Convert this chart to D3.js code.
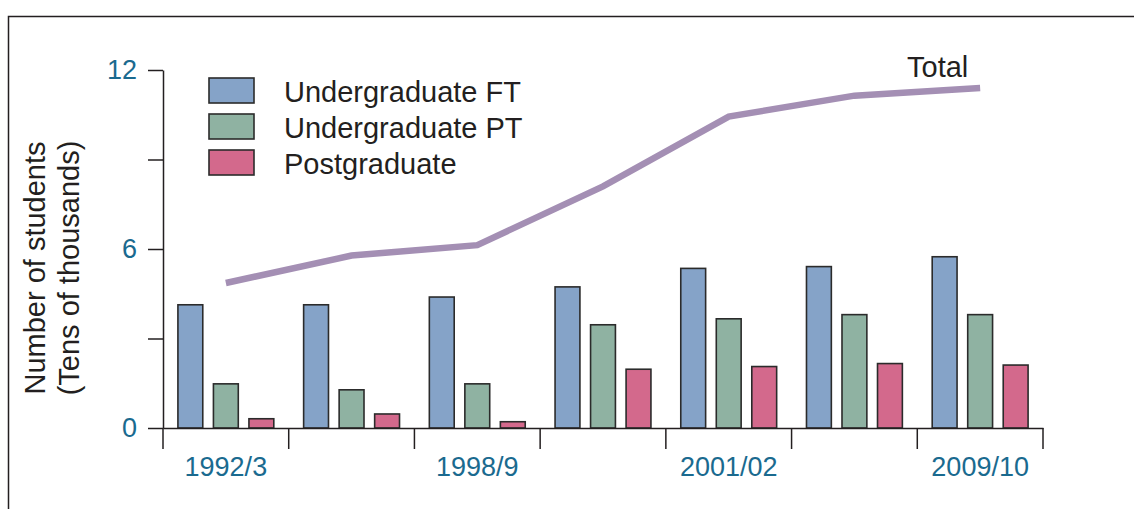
<!DOCTYPE html>
<html>
<head>
<meta charset="utf-8">
<script src="https://cdn.jsdelivr.net/npm/d3@7"></script>
<style>
  body { margin: 0; background: #fff; }
  svg { display: block; font-family: 'Liberation Sans', Arial, sans-serif; }
</style>
</head>
<body>
<div id="chart"></div>
<script>
// data (tens of thousands of students)
const periods = ['1992/3', '', '1998/9', '', '2001/02', '', '2009/10'];
const seriesNames = ['Undergraduate FT', 'Undergraduate PT', 'Postgraduate'];
const undergradFT = [4.13, 4.13, 4.39, 4.73, 5.35, 5.41, 5.74];
const undergradPT = [1.48, 1.28, 1.48, 3.46, 3.66, 3.80, 3.80];
const postgrad = [0.31, 0.47, 0.21, 1.97, 2.06, 2.16, 2.11];
const totals = [4.86, 5.78, 6.13, 8.10, 10.44, 11.14, 11.40];
const yTicks = [0, 3, 6, 9, 12];
const yLabelled = [0, 6, 12];

(function () {
  const width = 1134, height = 509;
  const colors = ['#85a3c8', '#8fb2a2', '#d3698c'];
  const lineColor = '#a48fb4';
  const tickColor = '#1a6a8f';
  const inkColor = '#231f20';
  const labelSize = '29px';
  const tickSize = '27px';

  const svg = d3.select('#chart').append('svg')
    .attr('width', width)
    .attr('height', height);

  // frame (left and top edges)
  svg.append('path')
    .attr('d', 'M8.5,' + height + 'V16.5H' + width)
    .attr('fill', 'none')
    .attr('stroke', inkColor)
    .attr('stroke-width', 1.5);

  const x = d3.scaleBand()
    .domain(d3.range(periods.length))
    .range([163, 1043]);

  const xInner = d3.scaleBand()
    .domain(d3.range(seriesNames.length))
    .range([0, x.bandwidth()])
    .paddingInner(0.3)
    .paddingOuter(0.42);

  const y = d3.scaleLinear()
    .domain([0, 12])
    .range([428, 70]);

  const table = periods.map(function (p, i) {
    return { i: i, values: [undergradFT[i], undergradPT[i], postgrad[i]] };
  });

  // bars
  const groups = svg.append('g').selectAll('g.period')
    .data(table)
    .enter()
    .append('g')
    .attr('class', 'period')
    .attr('transform', function (d) { return 'translate(' + x(d.i) + ',0)'; });

  groups.selectAll('rect')
    .data(function (d) { return d.values; })
    .enter()
    .append('rect')
    .attr('x', function (d, j) { return xInner(j); })
    .attr('y', function (d) { return y(d); })
    .attr('width', xInner.bandwidth())
    .attr('height', function (d) { return y(0) - y(d); })
    .attr('fill', function (d, j) { return colors[j]; })
    .attr('stroke', '#2b2b2b')
    .attr('stroke-width', 1.6);

  // y axis
  const yAxis = svg.append('g')
    .attr('transform', 'translate(163,0)')
    .call(d3.axisLeft(y)
      .tickValues(yTicks)
      .tickSize(15)
      .tickSizeOuter(0)
      .tickPadding(11)
      .tickFormat(function (d) { return yLabelled.indexOf(d) >= 0 ? d : ''; }));
  yAxis.select('.domain').attr('stroke', inkColor).attr('stroke-width', 1.5);
  yAxis.selectAll('.tick line').attr('stroke', inkColor).attr('stroke-width', 1.5);
  yAxis.selectAll('.tick text')
    .attr('fill', tickColor)
    .style('font-size', tickSize)
    .style('font-family', "'Liberation Sans', Arial, sans-serif");

  // x axis: line, tick marks at band edges, labels at band centres
  const xAxis = svg.append('g')
    .attr('transform', 'translate(0,' + y(0) + ')')
    .call(d3.axisBottom(x)
      .tickSize(0)
      .tickPadding(29)
      .tickFormat(function (d) { return periods[d]; }));
  xAxis.select('.domain').attr('stroke', inkColor).attr('stroke-width', 1.5);
  xAxis.selectAll('.tick text')
    .attr('fill', tickColor)
    .style('font-size', tickSize)
    .style('font-family', "'Liberation Sans', Arial, sans-serif");

  const edges = d3.range(periods.length + 1).map(function (i) {
    return i < periods.length ? x(i) : x(i - 1) + x.bandwidth();
  });
  xAxis.selectAll('line.edge')
    .data(edges)
    .enter()
    .append('line')
    .attr('class', 'edge')
    .attr('x1', function (d) { return d; })
    .attr('x2', function (d) { return d; })
    .attr('y1', 0)
    .attr('y2', 21)
    .attr('stroke', inkColor)
    .attr('stroke-width', 1.5);

  // total line
  const line = d3.line()
    .x(function (d, i) { return x(i) + x.bandwidth() / 2; })
    .y(function (d) { return y(d); });

  svg.append('path')
    .datum(totals)
    .attr('d', line)
    .attr('fill', 'none')
    .attr('stroke', lineColor)
    .attr('stroke-width', 6.5)
    .attr('stroke-linejoin', 'miter');

  svg.append('text')
    .text('Total')
    .attr('x', 907)
    .attr('y', 77)
    .attr('fill', inkColor)
    .style('font-size', labelSize);

  // legend
  const legend = svg.append('g')
    .attr('transform', 'translate(209,78)');

  const items = legend.selectAll('g.item')
    .data(seriesNames)
    .enter()
    .append('g')
    .attr('class', 'item')
    .attr('transform', function (d, i) { return 'translate(0,' + (i * 36) + ')'; });

  items.append('rect')
    .attr('width', 45)
    .attr('height', 25)
    .attr('fill', function (d, i) { return colors[i]; })
    .attr('stroke', '#2b2b2b')
    .attr('stroke-width', 1.6);

  items.append('text')
    .text(function (d) { return d; })
    .attr('x', 75)
    .attr('y', 24)
    .attr('fill', inkColor)
    .style('font-size', labelSize);

  // y axis title
  const title = svg.append('text')
    .attr('transform', 'translate(45,268) rotate(-90)')
    .attr('fill', inkColor)
    .style('font-size', labelSize)
    .style('text-anchor', 'middle');
  title.append('tspan').attr('x', 0).attr('y', 0).text('Number of students');
  title.append('tspan').attr('x', 0).attr('y', 34).text('(Tens of thousands)');
}());
</script>
</body>
</html>
